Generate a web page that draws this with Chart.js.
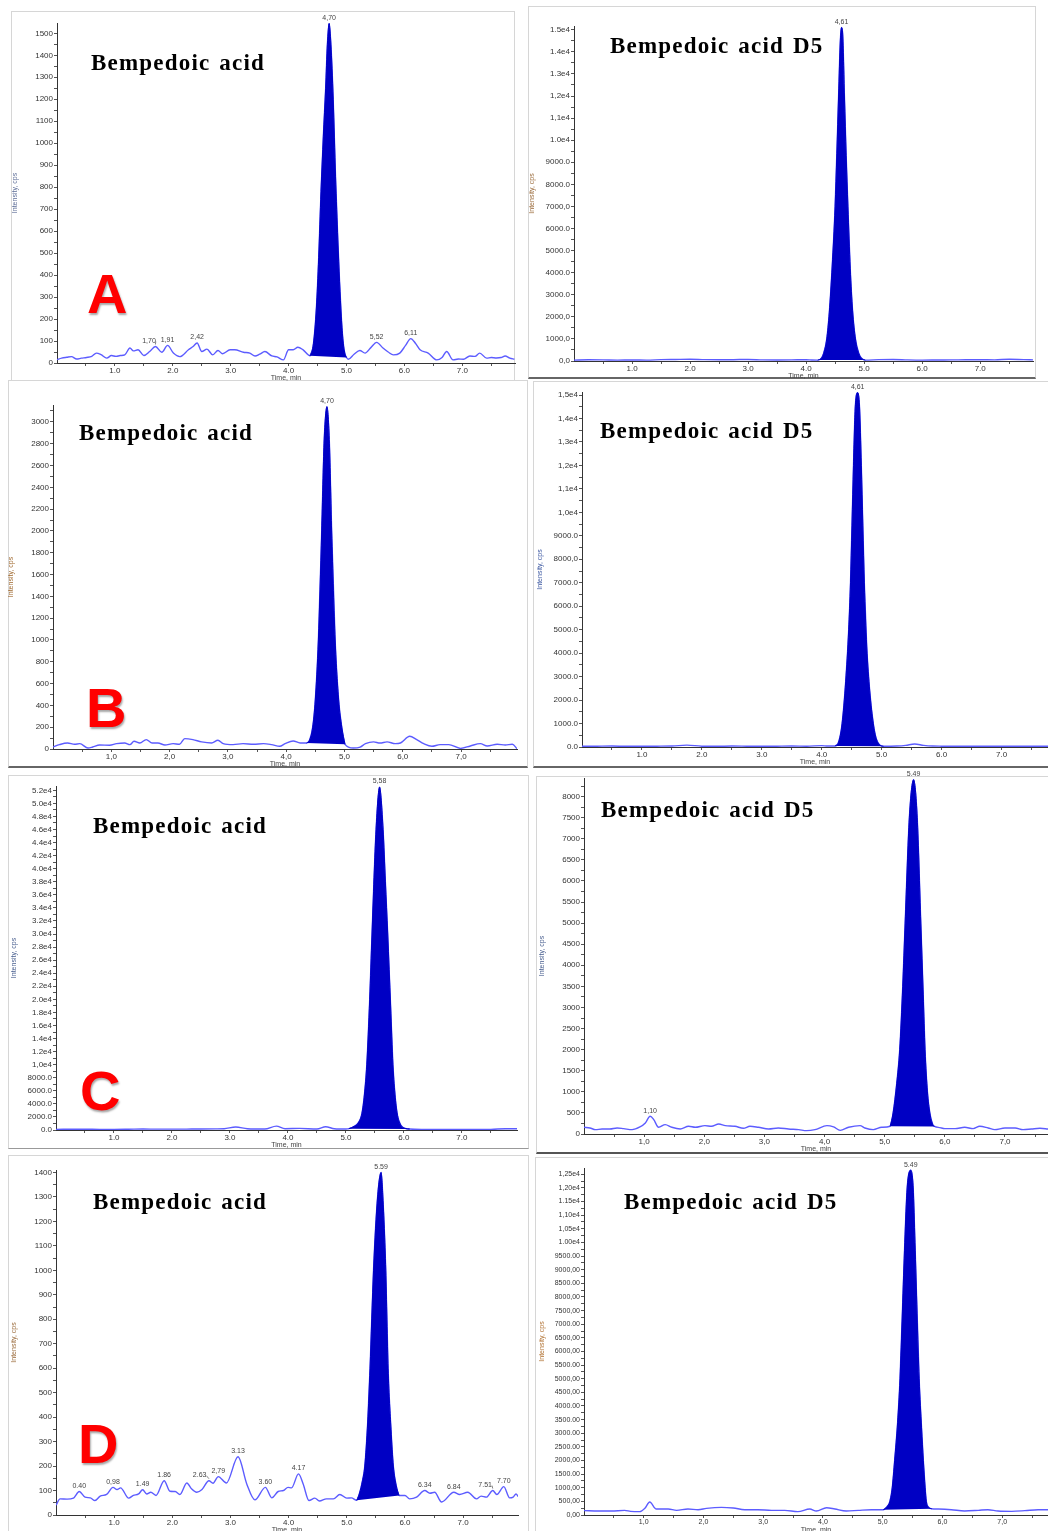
<!DOCTYPE html>
<html>
<head>
<meta charset="utf-8">
<script src="https://cdn.jsdelivr.net/npm/chart.js@4.4.1/dist/chart.umd.min.js"></script>
<style>
  html, body { margin: 0; padding: 0; background: #fff; width: 1048px; height: 1531px; overflow: hidden; position: relative; }
  canvas { position: absolute; }
  .frame { position: absolute; box-sizing: border-box; border: 1px solid #d6d6d6; }
  .name { position: absolute; font: bold 23px 'Liberation Serif', 'Times New Roman', serif; line-height: 23px;
          letter-spacing: 1.2px; word-spacing: 2px; color: #000; white-space: nowrap; }
  .tag { position: absolute; font: bold 56px 'Liberation Sans', Arial, sans-serif; line-height: 56px; color: #ff0000;
         text-shadow: 1px 2px 2px rgba(0, 0, 0, 0.35); }
</style>
</head>
<body>
<div class="frame" style="left:11px;top:11px;width:504px;height:370px;border-bottom-color:#bbb"></div>
<div class="frame" style="left:528px;top:6px;width:508px;height:373px;border-bottom:2px solid #666"></div>
<div class="frame" style="left:8px;top:380px;width:520px;height:388px;border-bottom:2px solid #666"></div>
<div class="frame" style="left:533px;top:381px;width:520px;height:387px;border-bottom:2px solid #666"></div>
<div class="frame" style="left:8px;top:775px;width:521px;height:374px;border-bottom-color:#999"></div>
<div class="frame" style="left:536px;top:776px;width:517px;height:378px;border-bottom:2px solid #555"></div>
<div class="frame" style="left:8px;top:1155px;width:521px;height:380px"></div>
<div class="frame" style="left:535px;top:1157px;width:518px;height:380px"></div>

<canvas id="chartA"></canvas>
<canvas id="chartA5"></canvas>
<canvas id="chartB"></canvas>
<canvas id="chartB5"></canvas>
<canvas id="chartC"></canvas>
<canvas id="chartC5"></canvas>
<canvas id="chartD"></canvas>
<canvas id="chartD5"></canvas>

<div class="name" style="left:91px;top:51px">Bempedoic acid</div>
<div class="name" style="left:610px;top:34px">Bempedoic acid D5</div>
<div class="name" style="left:79px;top:421px">Bempedoic acid</div>
<div class="name" style="left:600px;top:419px">Bempedoic acid D5</div>
<div class="name" style="left:93px;top:814px">Bempedoic acid</div>
<div class="name" style="left:601px;top:798px">Bempedoic acid D5</div>
<div class="name" style="left:93px;top:1190px">Bempedoic acid</div>
<div class="name" style="left:624px;top:1190px">Bempedoic acid D5</div>

<div class="tag" style="left:87px;top:266px">A</div>
<div class="tag" style="left:86px;top:680px">B</div>
<div class="tag" style="left:80px;top:1063px">C</div>
<div class="tag" style="left:78px;top:1416px">D</div>

<script>
// ---- data (time in min, intensity in cps) ----

// A, bempedoic acid
const timeA = [0.00, 0.08, 0.17, 0.25, 0.34, 0.42, 0.51, 0.60, 0.68, 0.76, 0.86, 0.94, 1.02, 1.09, 1.17, 1.26, 1.32, 1.40, 1.50, 1.60,
  1.70, 1.81, 1.91, 2.01, 2.12, 2.27, 2.35, 2.42, 2.50, 2.59, 2.69, 2.78, 2.86, 2.99, 3.07, 3.22, 3.33, 3.42, 3.50, 3.59,
  3.71, 3.80, 3.91, 4.00, 4.08, 4.16, 4.25, 4.37, 4.43, 4.48, 4.52, 4.56, 4.60, 4.64, 4.67, 4.70, 4.73, 4.77, 4.81, 4.85,
  4.88, 4.91, 4.94, 4.97, 5.00, 5.03, 5.13, 5.23, 5.32, 5.42, 5.52, 5.63, 5.72, 5.81, 5.92, 6.02, 6.11, 6.19, 6.27, 6.41,
  6.56, 6.65, 6.73, 6.84, 6.93, 7.02, 7.13, 7.22, 7.30, 7.42, 7.50, 7.59, 7.67, 7.74, 7.82, 7.90];
const cpsA = [15, 22, 26, 29, 18, 22, 25, 30, 45, 38, 22, 34, 30, 34, 37, 68, 55, 60, 34, 52,
  75, 49, 80, 45, 29, 60, 75, 91, 52, 63, 37, 57, 42, 60, 60, 49, 45, 32, 40, 52,
  32, 28, 14, 60, 60, 72, 60, 33, 90, 250, 480, 780, 1030, 1250, 1450, 1545, 1450, 1200, 850, 560,
  370, 210, 100, 45, 25, 17, 40, 57, 45, 70, 94, 68, 50, 37, 45, 80, 111, 90, 60, 45,
  14, 25, 52, 14, 18, 17, 32, 30, 45, 22, 25, 23, 25, 32, 22, 17];
const peakA = [4.37, 5.00];
const rtA = [[1.70, '1,70'], [1.91, '1,91'], [2.42, '2,42'], [4.70, '4,70'], [5.52, '5,52'], [6.11, '6,11']];
const yLabelsA = ['0', '100', '200', '300', '400', '500', '600', '700', '800', '900', '1000', '1100', '1200', '1300', '1400', '1500'];
const xLabelsA = ['1.0', '2.0', '3.0', '4.0', '5.0', '6.0', '7.0'];

// A, bempedoic acid D5
const timeA5 = [0.00, 0.25, 0.50, 0.75, 1.00, 1.25, 1.50, 1.75, 2.00, 2.25, 2.50, 2.75, 3.00, 3.25, 3.50, 3.75, 4.00, 4.10, 4.20, 4.26,
  4.30, 4.356, 4.40, 4.45, 4.50, 4.56, 4.59, 4.61, 4.63, 4.66, 4.69, 4.72, 4.76, 4.80, 4.85, 4.91, 4.96, 5.02, 5.25, 5.50,
  5.75, 6.00, 6.25, 6.50, 6.75, 7.00, 7.25, 7.50, 7.75, 7.91];
const cpsA5 = [40, 55, 50, 40, 45, 40, 60, 70, 80, 60, 55, 60, 70, 50, 45, 50, 60, 45, 40, 120,
  333, 1000, 2200, 4300, 7000, 12000, 14500, 15100, 14800, 12000, 9300, 7000, 4200, 2300, 1000, 333, 110, 40, 60, 70,
  50, 40, 45, 50, 55, 60, 50, 80, 60, 50];
const peakA5 = [4.20, 5.02];
const rtA5 = [[4.61, '4,61']];
const yLabelsA5 = ['0,0', '1000,0', '2000,0', '3000.0', '4000.0', '5000.0', '6000.0', '7000,0', '8000.0', '9000.0',
  '1.0e4', '1,1e4', '1,2e4', '1.3e4', '1.4e4', '1.5e4'];
const xLabelsA5 = ['1.0', '2.0', '3.0', '4.0', '5.0', '6.0', '7.0'];

// B, bempedoic acid
const timeB = [0.00, 0.11, 0.25, 0.37, 0.46, 0.60, 0.68, 0.80, 0.97, 1.09, 1.23, 1.32, 1.39, 1.49, 1.60, 1.70, 1.80, 1.92, 2.06, 2.17,
  2.26, 2.40, 2.55, 2.72, 2.83, 2.92, 3.09, 3.26, 3.44, 3.61, 3.75, 3.89, 3.98, 4.12, 4.24, 4.35, 4.40, 4.455, 4.50, 4.553,
  4.61, 4.65, 4.70, 4.742, 4.78, 4.84, 4.90, 4.954, 5.01, 5.15, 5.27, 5.36, 5.50, 5.61, 5.73, 5.87, 5.96, 6.12, 6.24, 6.36,
  6.50, 6.64, 6.79, 6.99, 7.16, 7.33, 7.45, 7.62, 7.76, 7.88, 7.96];
const cpsB = [18, 40, 55, 43, 49, 9, 18, 37, 34, 49, 55, 40, 71, 55, 86, 55, 55, 37, 49, 43,
  95, 86, 65, 55, 80, 49, 40, 49, 43, 49, 40, 25, 49, 74, 55, 55, 80, 200, 450, 1000,
  2000, 2800, 3140, 2800, 2000, 1000, 450, 200, 43, 9, 18, 49, 65, 55, 65, 49, 55, 117, 86, 49,
  25, 40, 40, 6, 28, 49, 28, 43, 37, 43, 3];
const peakB = [4.35, 5.01];
const rtB = [[4.70, '4,70']];
const yLabelsB = ['0', '200', '400', '600', '800', '1000', '1200', '1400', '1600', '1800', '2000', '2200', '2400', '2600', '2800', '3000'];
const xLabelsB = ['1,0', '2,0', '3,0', '4,0', '5,0', '6,0', '7,0'];

// B, bempedoic acid D5
const timeB5 = [0.00, 0.25, 0.50, 0.75, 1.00, 1.25, 1.50, 1.75, 2.00, 2.25, 2.50, 2.75, 3.00, 3.25, 3.50, 3.75, 4.00, 4.10, 4.22, 4.28,
  4.34, 4.40, 4.45, 4.48, 4.53, 4.56, 4.60, 4.63, 4.66, 4.71, 4.75, 4.80, 4.86, 4.91, 4.97, 5.03, 5.25, 5.40, 5.55, 5.70,
  5.85, 6.00, 6.25, 6.50, 6.75, 7.00, 7.25, 7.50, 7.78];
const cpsB5 = [30, 35, 40, 30, 30, 35, 40, 80, 35, 30, 40, 35, 30, 35, 40, 35, 60, 40, 40, 200,
  1000, 2800, 5000, 7000, 12000, 14500, 15100, 14500, 12000, 7000, 4300, 2400, 1000, 350, 80, 30, 40, 70, 130, 70,
  40, 35, 30, 35, 30, 35, 30, 35, 30];
const peakB5 = [4.22, 5.03];
const rtB5 = [[4.61, '4,61']];
const yLabelsB5 = ['0.0', '1000.0', '2000.0', '3000.0', '4000.0', '5000.0', '6000.0', '7000.0', '8000,0', '9000.0',
  '1,0e4', '1,1e4', '1,2e4', '1,3e4', '1,4e4', '1,5e4'];
const xLabelsB5 = ['1.0', '2.0', '3.0', '4.0', '5.0', '6.0', '7.0'];

// C, bempedoic acid
const timeC = [0.00, 0.25, 0.50, 0.75, 1.00, 1.25, 1.50, 1.75, 2.00, 2.25, 2.50, 2.75, 2.90, 3.10, 3.30, 3.60, 3.80, 3.95, 4.20, 4.50,
  4.65, 4.80, 5.00, 5.05, 5.15, 5.22, 5.275, 5.32, 5.36, 5.41, 5.45, 5.52, 5.58, 5.64, 5.68, 5.72, 5.77, 5.81, 5.85, 5.89,
  5.95, 6.02, 6.10, 6.30, 6.50, 6.75, 7.00, 7.25, 7.50, 7.75, 7.95];
const cpsC = [100, 110, 120, 100, 100, 120, 150, 130, 130, 140, 150, 170, 200, 450, 200, 150, 600, 200, 250, 150,
  500, 200, 150, 200, 600, 1200, 2500, 5500, 10000, 20000, 30000, 46000, 52500, 46000, 38000, 30000, 19000, 10000, 5000, 2200,
  700, 250, 150, 100, 100, 90, 80, 90, 100, 200, 200];
const peakC = [5.05, 6.10];
const rtC = [[5.58, '5,58']];
const yLabelsC = ['0.0', '2000.0', '4000.0', '6000.0', '8000.0', '1,0e4', '1.2e4', '1.4e4', '1.6e4', '1.8e4', '2.0e4', '2.2e4', '2.4e4',
  '2.6e4', '2.8e4', '3.0e4', '3.2e4', '3.4e4', '3.6e4', '3.8e4', '4.0e4', '4.2e4', '4.4e4', '4.6e4', '4.8e4', '5.0e4', '5.2e4'];
const xLabelsC = ['1.0', '2.0', '3.0', '4.0', '5.0', '6.0', '7.0'];

// C, bempedoic acid D5
const timeC5 = [0.00, 0.10, 0.19, 0.30, 0.43, 0.55, 0.66, 0.80, 0.93, 1.02, 1.10, 1.16, 1.24, 1.35, 1.46, 1.60, 1.74, 1.85, 2.01, 2.12,
  2.24, 2.35, 2.51, 2.65, 2.76, 2.90, 3.07, 3.23, 3.40, 3.57, 3.70, 3.84, 4.04, 4.15, 4.26, 4.40, 4.59, 4.67, 4.81, 4.95,
  5.09, 5.14, 5.20, 5.25, 5.30, 5.34, 5.41, 5.48, 5.54, 5.60, 5.64, 5.67, 5.71, 5.75, 5.80, 5.83, 5.92, 6.00, 6.17, 6.33,
  6.47, 6.58, 6.72, 6.83, 7.00, 7.17, 7.30, 7.44, 7.58, 7.72];
const cpsC5 = [159, 143, 103, 119, 119, 143, 127, 103, 167, 262, 421, 341, 159, 222, 159, 119, 183, 159, 198, 183,
  238, 198, 183, 135, 183, 159, 119, 143, 119, 103, 79, 103, 198, 167, 87, 159, 198, 143, 103, 159,
  183, 500, 1200, 2000, 3500, 5000, 7500, 8400, 7500, 5000, 3300, 2000, 1000, 500, 220, 180, 150, 127, 127, 159,
  127, 183, 143, 103, 143, 143, 103, 119, 135, 119];
const peakC5 = [5.09, 5.83];
const rtC5 = [[1.10, '1,10'], [5.49, '5.49']];
const yLabelsC5 = ['0', '500', '1000', '1500', '2000', '2500', '3000', '3500', '4000', '4500', '5000', '5500', '6000', '6500',
  '7000', '7500', '8000'];
const xLabelsC5 = ['1,0', '2,0', '3,0', '4,0', '5,0', '6,0', '7,0'];

// D, bempedoic acid
const timeD = [0.00, 0.07, 0.19, 0.30, 0.40, 0.50, 0.59, 0.67, 0.76, 0.87, 0.98, 1.05, 1.11, 1.25, 1.33, 1.42, 1.49, 1.56, 1.63, 1.72,
  1.86, 1.96, 2.05, 2.13, 2.25, 2.33, 2.42, 2.51, 2.63, 2.70, 2.79, 2.93, 3.13, 3.28, 3.42, 3.60, 3.71, 3.82, 3.91, 3.99,
  4.05, 4.17, 4.25, 4.35, 4.45, 4.53, 4.65, 4.77, 4.88, 5.00, 5.08, 5.17, 5.22, 5.27, 5.31, 5.36, 5.40, 5.46, 5.53, 5.59,
  5.62, 5.67, 5.71, 5.76, 5.80, 5.85, 5.90, 6.00, 6.08, 6.20, 6.34, 6.43, 6.51, 6.63, 6.84, 6.94, 7.08, 7.23, 7.31, 7.40,
  7.51, 7.58, 7.70, 7.80, 7.86, 7.91, 7.95];
const cpsD = [40, 66, 65, 69, 96, 73, 70, 59, 77, 84, 113, 104, 111, 69, 80, 86, 103, 86, 93, 80,
  140, 97, 96, 84, 131, 107, 93, 104, 140, 130, 157, 131, 238, 127, 62, 113, 70, 96, 100, 113,
  111, 168, 127, 59, 69, 57, 66, 66, 84, 69, 70, 60, 90, 140, 200, 380, 600, 1000, 1300, 1400,
  1300, 1000, 600, 350, 200, 120, 80, 80, 66, 73, 100, 89, 93, 53, 93, 84, 93, 66, 77, 73,
  100, 84, 116, 70, 73, 86, 75];
const peakD = [5.17, 5.90];
const rtD = [[0.40, '0.40'], [0.98, '0,98'], [1.49, '1.49'], [1.86, '1.86'], [2.63, '2.63'], [2.79, '2,79'], [3.13, '3.13'],
  [3.60, '3.60'], [4.17, '4.17'], [5.59, '5.59'], [6.34, '6.34'], [6.84, '6.84'], [7.51, '7.51'], [7.70, '7.70']];
const yLabelsD = ['0', '100', '200', '300', '400', '500', '600', '700', '800', '900', '1000', '1100', '1200', '1300', '1400'];
const xLabelsD = ['1.0', '2.0', '3.0', '4.0', '5.0', '6.0', '7.0'];

// D, bempedoic acid D5
const timeD5 = [0.00, 0.24, 0.46, 0.68, 0.78, 0.93, 1.02, 1.10, 1.21, 1.41, 1.55, 1.74, 1.91, 2.05, 2.30, 2.50, 2.69, 2.91, 3.14, 3.36,
  3.58, 3.78, 3.89, 4.06, 4.20, 4.39, 4.59, 4.81, 5.01, 5.07, 5.12, 5.16, 5.20, 5.25, 5.29, 5.37, 5.41, 5.47, 5.51, 5.54,
  5.61, 5.65, 5.68, 5.71, 5.73, 5.77, 5.82, 5.93, 6.15, 6.37, 6.60, 6.76, 6.93, 7.16, 7.38, 7.60, 7.77];
const cpsD5 = [159, 146, 146, 171, 134, 122, 250, 476, 220, 220, 171, 220, 195, 244, 281, 256, 195, 195, 171, 171,
  122, 220, 146, 268, 220, 146, 171, 195, 195, 300, 500, 1000, 2000, 3400, 5000, 10000, 12000, 12650, 12000, 10000,
  5000, 3200, 2000, 1000, 500, 280, 230, 220, 195, 146, 171, 195, 146, 134, 159, 195, 195];
const peakD5 = [5.01, 5.82];
const rtD5 = [[5.49, '5.49']];
const yLabelsD5 = ['0,00', '500,00', '1000,00', '1500.00', '2000,00', '2500.00', '3000.00', '3500.00', '4000.00', '4500,00',
  '5000,00', '5500.00', '6000,00', '6500,00', '7000.00', '7500,00', '8000,00', '8500.00', '9000,00', '9500.00',
  '1.00e4', '1,05e4', '1,10e4', '1.15e4', '1,20e4', '1,25e4'];
const xLabelsD5 = ['1,0', '2,0', '3,0', '4,0', '5,0', '6,0', '7,0'];

// ---- panel setup: id, data, axis ranges and where the plot area sits on the page ----
const panels = [
  { id: 'chartA', time: timeA, cps: cpsA, peak: peakA, rt: rtA, yLabels: yLabelsA, yStep: 100, yMax: 1547, xMax: 7.91,
    xLabels: xLabelsA, area: [57, 23, 515, 363], titleColor: '#5f6f98', tickSize: 8 },
  { id: 'chartA5', time: timeA5, cps: cpsA5, peak: peakA5, rt: rtA5, yLabels: yLabelsA5, yStep: 1000, yMax: 15170, xMax: 7.91,
    xLabels: xLabelsA5, area: [574, 26, 1033, 361], titleColor: '#9a6a3a', tickSize: 8 },
  { id: 'chartB', time: timeB, cps: cpsB, peak: peakB, rt: rtB, yLabels: yLabelsB, yStep: 200, yMax: 3155, xMax: 7.96,
    xLabels: xLabelsB, area: [53, 405, 517, 749], titleColor: '#a06a30', tickSize: 8 },
  { id: 'chartB5', time: timeB5, cps: cpsB5, peak: peakB5, rt: rtB5, yLabels: yLabelsB5, yStep: 1000, yMax: 15130, xMax: 7.775,
    xLabels: xLabelsB5, area: [582, 392, 1048, 747], titleColor: '#3a56a0', tickSize: 8 },
  { id: 'chartC', time: timeC, cps: cpsC, peak: peakC, rt: rtC, yLabels: yLabelsC, yStep: 2000, yMax: 52660, xMax: 7.95,
    xLabels: xLabelsC, area: [56, 786, 517, 1130], titleColor: '#4a6090', tickSize: 8 },
  { id: 'chartC5', time: timeC5, cps: cpsC5, peak: peakC5, rt: rtC5, yLabels: yLabelsC5, yStep: 500, yMax: 8440, xMax: 7.715,
    xLabels: xLabelsC5, area: [584, 778, 1048, 1134], titleColor: '#4a6090', tickSize: 8 },
  { id: 'chartD', time: timeD, cps: cpsD, peak: peakD, rt: rtD, yLabels: yLabelsD, yStep: 100, yMax: 1410, xMax: 7.944,
    xLabels: xLabelsD, area: [56, 1170, 518, 1515], titleColor: '#9a6a3a', tickSize: 8 },
  { id: 'chartD5', time: timeD5, cps: cpsD5, peak: peakD5, rt: rtD5, yLabels: yLabelsD5, yStep: 500, yMax: 12731, xMax: 7.767,
    xLabels: xLabelsD5, area: [584, 1168, 1048, 1515], titleColor: '#b07030', tickSize: 7 }
];

const AXIS_W = 50, PAD_TOP = 16, PAD_RIGHT = 6, AXIS_H = 23;
const TRACE = '#5c5cff', PEAK = '#0000c4';

Chart.defaults.font.family = "'Liberation Sans', Arial, sans-serif";
Chart.defaults.color = '#333';

// ticks every half step, labels only on the full steps
function halfTicks(step, max, labels, first) {
  const half = step / 2;
  return {
    build: function (scale) {
      const out = [];
      for (let i = first; i * half <= max + 1e-9; i++) out.push({ value: i * half });
      scale.ticks = out;
    },
    label: function (value) {
      const i = Math.round(value / half);
      if (i % 2 !== 0) return '';
      return labels[i / 2 - (first ? 1 : 0)] || '';
    }
  };
}

// the highest point close to a retention time (falls back to the nearest one)
function apexIndex(time, cps, rt) {
  let best = -1;
  time.forEach(function (t, i) {
    if (Math.abs(t - rt) <= 0.031 && (best < 0 || cps[i] > cps[best])) best = i;
  });
  if (best >= 0) return best;
  best = 0;
  time.forEach(function (t, i) { if (Math.abs(t - rt) < Math.abs(time[best] - rt)) best = i; });
  return best;
}

// retention-time labels above peaks; a label that would run into the next one is pushed left with a short leader
function rtPlugin(p) {
  return {
    id: 'rtLabels',
    afterDatasetsDraw: function (chart) {
      const ctx = chart.ctx, xs = chart.scales.x, ys = chart.scales.y;
      ctx.save();
      ctx.font = "7px 'Liberation Sans', Arial, sans-serif";
      ctx.fillStyle = '#444';
      ctx.strokeStyle = '#666';
      ctx.lineWidth = 0.8;
      ctx.textBaseline = 'bottom';
      const items = p.rt.map(function (r) {
        const k = apexIndex(p.time, p.cps, r[0]);
        return { x: xs.getPixelForValue(p.time[k]), y: ys.getPixelForValue(p.cps[k]) - 2,
                 text: r[1], w: ctx.measureText(r[1]).width };
      });
      items.forEach(function (it, i) {
        const next = items[i + 1];
        let cx = it.x;
        if (next && cx + it.w / 2 > next.x - next.w / 2 - 1) {
          cx = next.x - next.w / 2 - it.w / 2 - 5;
          ctx.beginPath();
          ctx.moveTo(cx + it.w / 2, it.y - 3);
          ctx.lineTo(it.x, it.y);
          ctx.stroke();
        }
        ctx.textAlign = 'center';
        ctx.fillText(it.text, cx, it.y);
      });
      ctx.restore();
    }
  };
}

panels.forEach(function (p) {
  const canvas = document.getElementById(p.id);
  const [left, top, right, bottom] = p.area;
  const w = right - left + AXIS_W + PAD_RIGHT;
  const h = bottom - top + PAD_TOP + AXIS_H;
  canvas.width = w;
  canvas.height = h;
  canvas.style.width = w + 'px';
  canvas.style.height = h + 'px';
  canvas.style.left = (left - AXIS_W) + 'px';
  canvas.style.top = (top - PAD_TOP) + 'px';

  const trace = [], peakPts = [];
  p.time.forEach(function (t, i) {
    trace.push({ x: t, y: p.cps[i] });
    if (t >= p.peak[0] - 1e-9 && t <= p.peak[1] + 1e-9) peakPts.push({ x: t, y: p.cps[i] });
  });
  const baseline = [peakPts[0], peakPts[peakPts.length - 1]];

  const yT = halfTicks(p.yStep, p.yMax, p.yLabels, 0);
  const xT = halfTicks(1, p.xMax, p.xLabels, 1);

  new Chart(canvas.getContext('2d'), {
    type: 'line',
    data: {
      datasets: [
        { data: peakPts, borderColor: PEAK, backgroundColor: PEAK, borderWidth: 1, pointRadius: 0,
          fill: '+1', cubicInterpolationMode: 'monotone' },
        { data: baseline, borderColor: 'rgba(0,0,0,0)', borderWidth: 0, pointRadius: 0, fill: false },
        { data: trace, borderColor: TRACE, borderWidth: 1.4, pointRadius: 0, fill: false,
          cubicInterpolationMode: 'monotone' }
      ]
    },
    options: {
      responsive: false,
      animation: false,
      events: [],
      layout: { padding: { top: PAD_TOP, right: PAD_RIGHT, left: 0, bottom: 0 } },
      plugins: { legend: { display: false }, tooltip: { enabled: false } },
      scales: {
        x: {
          type: 'linear', min: 0, max: p.xMax,
          afterBuildTicks: xT.build,
          afterFit: function (s) { s.height = AXIS_H; },
          ticks: { callback: xT.label, autoSkip: false, maxRotation: 0, padding: 0,
                   font: { size: p.tickSize }, color: '#333' },
          grid: { drawOnChartArea: false, drawTicks: true, tickLength: 3, color: '#555' },
          border: { display: true, color: '#333', width: 1 },
          title: { display: true, text: 'Time, min', font: { size: 7 }, color: '#444', padding: { top: 0, bottom: 4 } }
        },
        y: {
          type: 'linear', min: 0, max: p.yMax,
          afterBuildTicks: yT.build,
          afterFit: function (s) { s.width = AXIS_W; },
          ticks: { callback: yT.label, autoSkip: false, padding: 1, font: { size: p.tickSize }, color: '#333' },
          grid: { drawOnChartArea: false, drawTicks: true, tickLength: 3, color: '#555' },
          border: { display: true, color: '#333', width: 1 },
          title: { display: true, text: 'Intensity, cps', font: { size: 7 }, color: p.titleColor }
        }
      }
    },
    plugins: [rtPlugin(p)]
  });
});
</script>
</body>
</html>
